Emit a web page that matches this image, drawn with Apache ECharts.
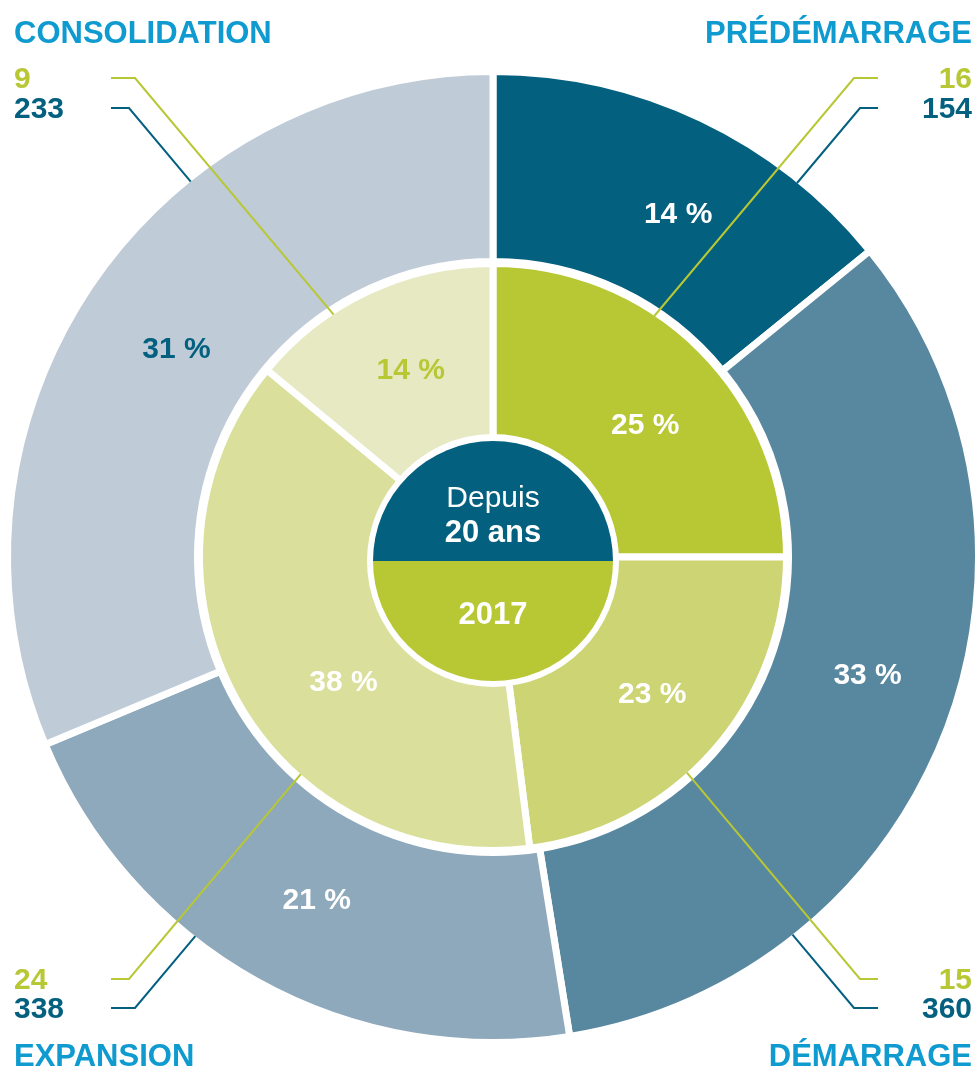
<!DOCTYPE html>
<html><head><meta charset="utf-8">
<script src="https://cdn.jsdelivr.net/npm/echarts@6/dist/echarts.min.js"></script>
<style>html,body{margin:0;padding:0;background:#fff}#c{width:977px;height:1069px}</style>
</head><body><div id="c"></div>
<script>
// ---- data ----
const categories = ['PRÉDÉMARRAGE', 'DÉMARRAGE', 'EXPANSION', 'CONSOLIDATION'];
const pctSince20 = [14, 33, 21, 31];      // outer ring (%), depuis 20 ans
const pct2017 = [25, 23, 38, 14];         // inner ring (%), 2017
const countSince20 = [154, 360, 338, 233];
const count2017 = [16, 15, 24, 9];
const centerTop = ['Depuis', '20 ans'];
const centerBottom = '2017';

// ---- styles ----
const outerColors = ['#03607f', '#58889f', '#8ea9bb', '#bfcbd7'];
const innerColors = ['#b8c734', '#ccd473', '#dbdf9c', '#e6e9c2'];
const outerLabelColors = ['#fff', '#fff', '#fff', '#03607f'];
const innerLabelColors = ['#fff', '#fff', '#fff', '#b8c734'];
const outerLabelOffsets = [[16, 13], [7, -22], [15, 0], [11, 11]];
const innerLabelOffsets = [[4, 17], [2, -1], [34, 25], [7, 3]];
const titleColor = '#0f9bd0';
const green = '#b8c734', blue = '#03607f';
const FONT = '"Liberation Sans", Arial, Helvetica, sans-serif';

const CX = 493, CY = 557;
const R_OUT = 482, R_OUT_IN = 299, R_IN = 290, R_IN_IN = 123, B = 7;

const chart = echarts.init(document.getElementById('c'), null, {renderer: 'canvas'});

function leader(startX, elbowX, y, sx, sy, R) {
  const a = 40 * Math.PI / 180;
  const dx = sx * Math.sin(a), dy = sy * Math.cos(a);
  const ex = elbowX - CX, ey = y - CY;
  const b = ex * dx + ey * dy, c = ex * ex + ey * ey - R * R;
  const t = -b - Math.sqrt(Math.max(b * b - c, 0));
  return [[startX, y], [elbowX, y], [elbowX + t * dx, y + t * dy]];
}

// corner layout: 0 top-right, 1 bottom-right, 2 bottom-left, 3 top-left
const corners = [
  {right: true, top: true}, {right: true, top: false},
  {right: false, top: false}, {right: false, top: true}
];
const graphics = [];
corners.forEach((k, i) => {
  const tx = k.right ? 972 : 14;
  const align = k.right ? 'right' : 'left';
  const titleBase = k.top ? 43 : 1066;
  const gBase = k.top ? 89 : 990;
  const bBase = k.top ? 119 : 1019;
  const startX = k.right ? 878 : 111;
  const sx = k.right ? -1 : 1, sy = k.top ? 1 : -1;
  const gLen = k.top ? 24 : 18, bLen = k.top ? 18 : 24;
  const gy = gBase - 11, by = bBase - 11;
  graphics.push({type: 'polyline', z: 100, silent: true,
    shape: {points: leader(startX, startX + sx * gLen, gy, sx, sy, R_IN)},
    style: {stroke: green, lineWidth: 2, fill: null}});
  graphics.push({type: 'polyline', z: 100, silent: true,
    shape: {points: leader(startX, startX + sx * bLen, by, sx, sy, R_OUT)},
    style: {stroke: blue, lineWidth: 2, fill: null}});
  graphics.push({type: 'text', z: 100, silent: true,
    style: {x: tx, y: titleBase + 6.5, text: categories[i], fill: titleColor,
      font: 'bold 31px ' + FONT, align: align, verticalAlign: 'bottom'}});
  graphics.push({type: 'text', z: 100, silent: true,
    style: {x: tx, y: gBase + 6, text: String(count2017[i]), fill: green,
      font: 'bold 30px ' + FONT, align: align, verticalAlign: 'bottom'}});
  graphics.push({type: 'text', z: 100, silent: true,
    style: {x: tx, y: bBase + 6, text: String(countSince20[i]), fill: blue,
      font: 'bold 30px ' + FONT, align: align, verticalAlign: 'bottom'}});
});

const pctLabel = {show: true, position: 'inside', formatter: '{c} %',
  fontFamily: FONT, fontWeight: 'bold', fontSize: 30, color: '#fff'};

chart.setOption({
  animation: false,
  backgroundColor: '#fff',
  series: [
    {
      type: 'pie', name: 'Depuis 20 ans', center: [CX, CY], radius: [R_OUT_IN - B / 2, R_OUT + B / 2],
      startAngle: 90, clockwise: true, silent: true, z: 2,
      itemStyle: {borderColor: '#fff', borderWidth: B},
      label: pctLabel, labelLine: {show: false}, emphasis: {disabled: true},
      data: categories.map((c, i) => ({name: c, value: pctSince20[i],
        itemStyle: {color: outerColors[i]},
        label: {color: outerLabelColors[i], offset: outerLabelOffsets[i]}}))
    },
    {
      type: 'pie', name: '2017', center: [CX, CY], radius: [R_IN_IN - B / 2, R_IN + B / 2],
      startAngle: 90, clockwise: true, silent: true, z: 2,
      itemStyle: {borderColor: '#fff', borderWidth: B},
      label: pctLabel, labelLine: {show: false}, emphasis: {disabled: true},
      data: categories.map((c, i) => ({name: c, value: pct2017[i],
        itemStyle: {color: innerColors[i]},
        label: {color: innerLabelColors[i], offset: innerLabelOffsets[i]}}))
    },
    {
      type: 'pie', name: 'disk', center: [CX, CY + 4], radius: [0, 126], silent: true, z: 3,
      label: {show: false}, labelLine: {show: false}, emphasis: {disabled: true},
      data: [{value: 1, itemStyle: {color: '#fff'}}]
    },
    {
      type: 'pie', name: 'centre', center: [CX, CY + 4], radius: [0, 120], startAngle: 180,
      silent: true, z: 4, emphasis: {disabled: true}, labelLine: {show: false},
      itemStyle: {borderWidth: 0},
      label: {show: true, position: 'inside', fontFamily: FONT, color: '#fff'},
      data: [
        {value: 1, name: centerTop.join(' '), itemStyle: {color: blue},
          label: {formatter: '{a|' + centerTop[0] + '}\n{b|' + centerTop[1] + '}', offset: [0, 18],
            rich: {a: {fontSize: 30, fontFamily: FONT, color: '#fff', lineHeight: 35},
                   b: {fontSize: 31, fontFamily: FONT, fontWeight: 'bold', color: '#fff', lineHeight: 35}}}},
        {value: 1, name: centerBottom, itemStyle: {color: green},
          label: {formatter: centerBottom, offset: [0, -9], fontSize: 31, fontWeight: 'bold'}}
      ]
    }
  ],
  graphic: {elements: graphics}
});
</script>
</body></html>
